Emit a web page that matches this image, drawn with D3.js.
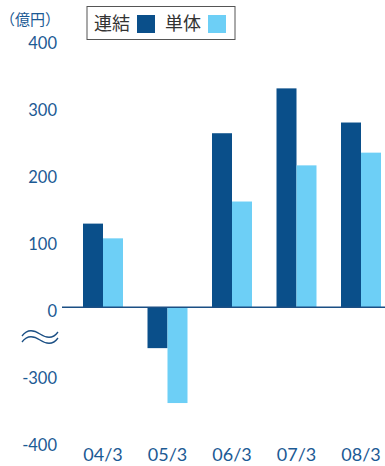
<!DOCTYPE html>
<html>
<head>
<meta charset="utf-8">
<script src="https://cdn.jsdelivr.net/npm/d3@7"></script>
<style>
  html, body { margin: 0; padding: 0; background: #fff; }
  svg { display: block; }
</style>
</head>
<body>
<svg id="chart" width="385" height="466"></svg>
<script>
// Fiscal years (March year-end)
const categories = ["04/3", "05/3", "06/3", "07/3", "08/3"];
// Consolidated and non-consolidated figures, in 億円
const consolidated = [125, -261, 260, 327, 276];
const standalone   = [103, -343, 158, 212, 231];
const seriesNames  = ["連結", "単体"];
// Axis labels: the axis is broken between 0 and -300
const tickValues = [400, 300, 200, 100, 0, -300, -400];
const unitLabel = "（億円）";

const colors = ["#0a4f8a", "#6dcff6"];
const textBlue = "#1c5a94";
const lineBlue = "#1b4f84";

// Values below zero skip the span between 0 and -200 (the axis break)
const breakGap = 200;
const fold = v => v < 0 ? v + breakGap : v;

const svg = d3.select("#chart");

const y = d3.scaleLinear()
  .domain([fold(-400), 400])
  .range([441.2, 39.5]);

const x0 = d3.scaleBand()
  .domain(categories)
  .range([70.75, 393.25])
  .paddingInner(0.38)
  .paddingOuter(0.19);

const x1 = d3.scaleBand()
  .domain([0, 1])
  .range([0, x0.bandwidth()]);

const rows = categories.map((c, i) => ({ cat: c, vals: [consolidated[i], standalone[i]] }));

// Bars
const groups = svg.append("g").selectAll("g")
  .data(rows).join("g")
  .attr("transform", d => `translate(${x0(d.cat)},0)`);

groups.selectAll("rect")
  .data(d => d.vals.map((v, k) => ({ v, k })))
  .join("rect")
  .attr("x", d => x1(d.k))
  .attr("width", x1.bandwidth())
  .attr("y", d => Math.min(y(fold(d.v)), y(0)))
  .attr("height", d => Math.abs(y(fold(d.v)) - y(0)))
  .attr("fill", d => colors[d.k]);

// Zero line
svg.append("line")
  .attr("x1", 62).attr("x2", 385)
  .attr("y1", y(0)).attr("y2", y(0))
  .attr("stroke", lineBlue)
  .attr("stroke-width", 1.4);

// Y axis labels
const yAxis = d3.axisLeft(y)
  .tickValues(tickValues.map(fold))
  .tickFormat((d, i) => String(tickValues[i]))
  .tickSize(0)
  .tickPadding(0);

const yg = svg.append("g")
  .attr("transform", "translate(57,4)")
  .call(yAxis);
yg.select(".domain").remove();
yg.selectAll("text")
  .attr("fill", textBlue)
  .attr("font-family", "Lato, 'Open Sans', sans-serif")
  .attr("font-size", 16.5);

// Unit label
svg.append("text")
  .attr("x", 60).attr("y", 25)
  .attr("text-anchor", "end")
  .attr("fill", textBlue)
  .attr("font-family", "'Noto Sans CJK JP', sans-serif")
  .attr("font-size", 15)
  .text(unitLabel);

// Axis break marks
const wave = (yy) => `M22,${yy + 2} C27,${yy - 5} 34,${yy - 4} 40,${yy} S53,${yy + 5} 58,${yy - 2}`;
[334, 340].forEach(yy => {
  svg.append("path")
    .attr("d", wave(yy))
    .attr("fill", "none")
    .attr("stroke", lineBlue)
    .attr("stroke-width", 1.3);
});

// X axis labels
const xAxis = d3.axisBottom(x0).tickSize(0).tickPadding(0);
const xg = svg.append("g")
  .attr("transform", "translate(0,448)")
  .call(xAxis);
xg.select(".domain").remove();
xg.selectAll("text")
  .attr("fill", textBlue)
  .attr("font-family", "Lato, 'Open Sans', sans-serif")
  .attr("font-size", 18);

// Legend
const legend = svg.append("g");
legend.append("rect")
  .attr("x", 87).attr("y", 6.5)
  .attr("width", 148).attr("height", 33)
  .attr("fill", "#fff")
  .attr("stroke", "#555")
  .attr("stroke-width", 1);

const legendX = [94, 165];
seriesNames.forEach((name, k) => {
  legend.append("text")
    .attr("x", legendX[k]).attr("y", 29.5)
    .attr("fill", "#333")
    .attr("font-family", "'Noto Sans CJK JP', sans-serif")
    .attr("font-size", 18)
    .text(name);
  legend.append("rect")
    .attr("x", legendX[k] + 43).attr("y", 15)
    .attr("width", 18).attr("height", 18)
    .attr("fill", colors[k]);
});
</script>
</body>
</html>
